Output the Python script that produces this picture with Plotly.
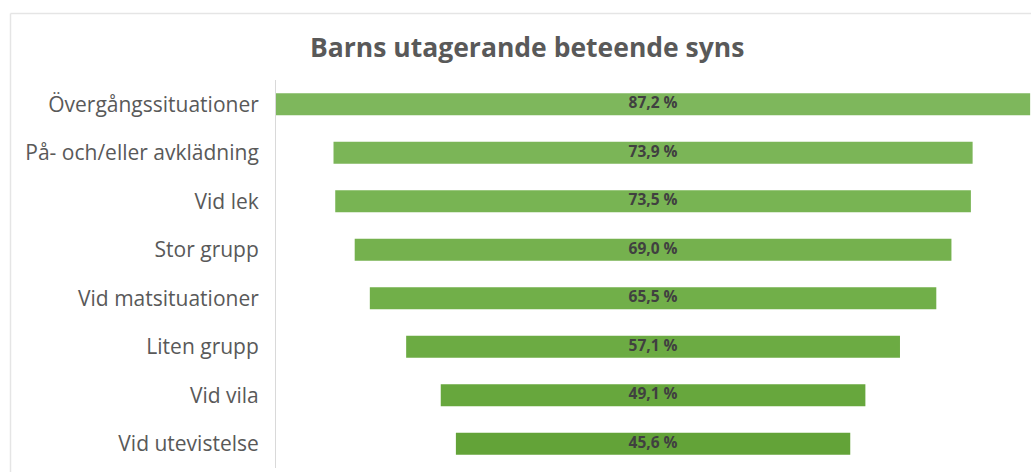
import plotly.graph_objects as go

categories = ["Övergångssituationer", "På- och/eller avklädning", "Vid lek", "Stor grupp",
              "Vid matsituationer", "Liten grupp", "Vid vila", "Vid utevistelse"]
values = [87.2, 73.9, 73.5, 69.0, 65.5, 57.1, 49.1, 45.6]
title_text = "Barns utagerande beteende syns"

bar_colors = ["#7EB75C", "#7BB557", "#78B453", "#75B14E", "#71AF49", "#6CAB43", "#67A73D", "#63A338"]

W, H = 1031, 472
L, R, T, B = 276, 0, 80, 4
pw = W - L - R
ph = H - T - B
n = len(categories)

def px_x(x):
    return (x - L) / pw

def px_y(y):
    return 1 + (T - y) / ph

fig = go.Figure()
fig.add_trace(go.Funnel(
    y=categories,
    x=values,
    marker=dict(color=bar_colors, line=dict(width=0)),
    connector=dict(visible=False),
    textinfo="none",
    hoverinfo="skip",
))
fig.add_trace(go.Scatter(
    x=[0] * n,
    y=categories,
    mode="text",
    text=[f"{v:.1f} %".replace(".", ",") for v in values],
    textposition="middle center",
    textfont=dict(family="Open Sans", size=15.5, color="#404040", weight="bold"),
    hoverinfo="skip",
    showlegend=False,
))

half = max(values) / 2
fig.update_layout(
    width=W, height=H,
    margin=dict(l=L, r=R, t=T, b=B),
    paper_bgcolor="white",
    plot_bgcolor="white",
    funnelgap=0.55,
    showlegend=False,
    xaxis=dict(range=[-half, half + 0.1], visible=False, fixedrange=True),
    yaxis=dict(
        type="category",
        categoryorder="array", categoryarray=categories,
        autorange="reversed",
        showline=True, linecolor="#D9D9D9", linewidth=1,
        showgrid=False, ticks="", ticklabelstandoff=12,
        tickfont=dict(family="Open Sans", size=21, color="#595959"),
        zeroline=False, fixedrange=True,
    ),
    shapes=[
        dict(type="line", xref="paper", yref="paper",
             x0=px_x(10.5), x1=1.02, y0=px_y(13.5), y1=px_y(13.5),
             line=dict(color="#E5E5E5", width=1.5)),
        dict(type="line", xref="paper", yref="paper",
             x0=px_x(10.5), x1=px_x(10.5), y0=-0.02, y1=px_y(13.5),
             line=dict(color="#E5E5E5", width=1.5)),
    ],
    annotations=[
        dict(text=title_text, xref="paper", yref="paper",
             x=px_x(527), y=px_y(47),
             xanchor="center", yanchor="middle", showarrow=False,
             font=dict(family="Open Sans", size=26.5, color="#595959", weight="bold")),
    ],
)

fig.write_html("out.html", config={"displayModeBar": False},
               post_script="document.body.style.margin='0';document.body.style.overflow='hidden';")
